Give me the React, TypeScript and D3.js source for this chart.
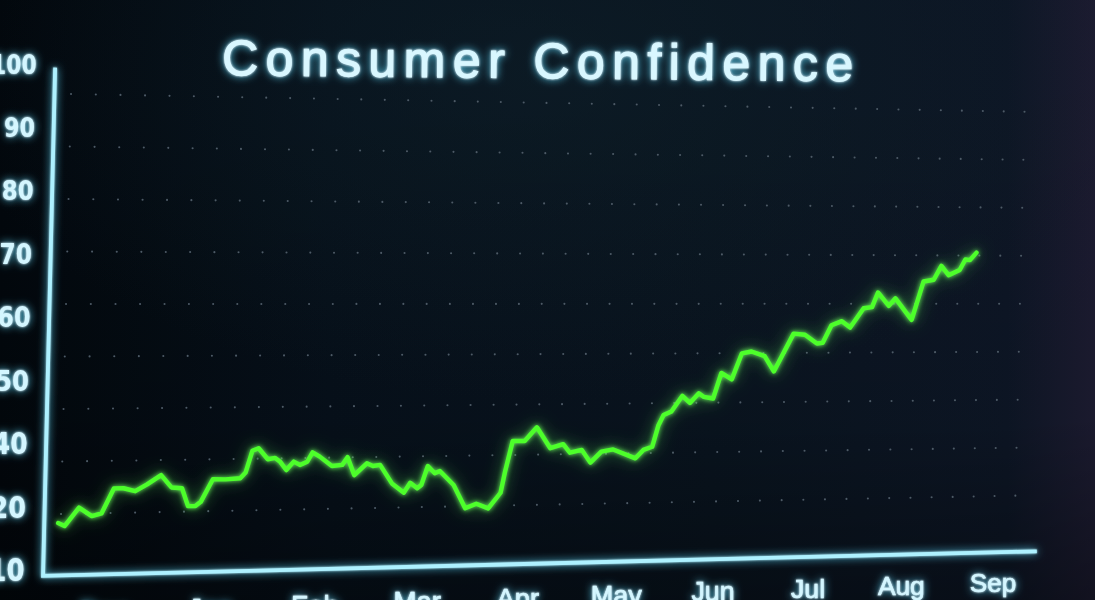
import React from 'react';
import * as d3 from 'd3';

const W = 1095;
const H = 600;

const title = 'Consumer Confidence';
const months = ['Dec', 'Jan', 'Feb', 'Mar', 'Apr', 'May', 'Jun', 'Jul', 'Aug', 'Sep'];
const yTickLabels = [100, 90, 80, 70, 60, 50, 40, 20, 10];

// line vertices: position in months after the "Dec" label, value read against the y labels
const monthPos = [
  -0.45, -0.39, -0.26, -0.14, -0.05, 0.06, 0.15, 0.26, 0.37, 0.5, 0.6, 0.7, 0.76, 0.83, 0.88, 0.99,
  1.11, 1.25, 1.3, 1.36, 1.42, 1.51, 1.58, 1.63, 1.69, 1.76, 1.82, 1.89, 1.94, 2.01, 2.13, 2.23,
  2.28, 2.35, 2.47, 2.53, 2.6, 2.72, 2.84, 2.9, 2.97, 3.01, 3.07, 3.14, 3.19, 3.33, 3.45, 3.56,
  3.68, 3.8, 3.84, 3.91, 4.03, 4.15, 4.29, 4.42, 4.49, 4.61, 4.7, 4.81, 4.93, 5.16, 5.24, 5.33,
  5.39, 5.44, 5.52, 5.63, 5.71, 5.8, 5.85, 5.95, 6.03, 6.14, 6.24, 6.34, 6.48, 6.58, 6.78, 6.9,
  7.03, 7.09, 7.18, 7.29, 7.38, 7.52, 7.61, 7.67, 7.79, 7.86, 8.04, 8.16, 8.27, 8.35, 8.43, 8.55,
  8.61, 8.66, 8.73,
];
const confidence = [
  17.3, 16.8, 19.7, 18.3, 18.7, 25.3, 25.3, 24.3, 26.4, 29.3, 25.3, 25.0, 19.6, 19.6, 20.5, 27.7,
  27.6, 27.9, 29.7, 36.7, 37.5, 33.9, 34.3, 33.0, 30.3, 33.0, 31.9, 32.9, 35.9, 34.5, 31.4, 31.7,
  34.2, 28.3, 32.1, 31.2, 31.5, 25.4, 22.3, 25.5, 23.7, 24.7, 30.9, 28.5, 29.2, 24.5, 18.4, 19.1,
  18.3, 21.7, 28.6, 38.8, 38.7, 41.6, 36.2, 37.5, 34.6, 35.5, 31.2, 34.8, 35.5, 32.4, 35.2, 36.2,
  41.7, 43.4, 44.0, 46.6, 45.4, 47.0, 46.4, 46.1, 50.4, 49.3, 53.7, 54.0, 53.2, 50.6, 57.0, 56.8,
  55.3, 55.4, 58.4, 59.1, 58.0, 61.3, 61.5, 64.0, 61.7, 63.0, 59.3, 65.9, 66.2, 68.6, 67.0, 67.9,
  69.7, 69.6, 70.9,
];

// perspective of the screen plane (recedes to the right)
const X0 = 66.1;
const YH = 301;
const K = 9.02e-5;
const LEAN = -0.0238;
const depth = (p: number) => 1 / (1 + K * p);
const proj = (p: number, q: number): [number, number] => {
  const s = depth(p);
  return [X0 + s * (p + LEAN * q), YH + s * q];
};

// flat-plane scales
const xScale = d3.scaleLinear().domain([0, months.length - 1]).range([46, 1019.7]);
const yDomain = [...yTickLabels].reverse();
const yScale = d3.scaleLinear().domain(yDomain).range(yDomain.map((_, i) => 268 - 63 * i));
const gridRow = d3.scaleLinear().domain([0, 8]).range([-207, 213]);
const GRID_COLS = 42;
const GRID_STEP = 24.85;

const AXIS_LEFT_P = -16.5;
const AXIS_RIGHT_P = 1071;
const AXIS_TOP_Q = yScale(100) + 3;
const AXIS_BASE_Q = 274.5;
const YLABEL_P = -35;

export default function App() {
  const linePts = monthPos.map((t, i) => proj(xScale(t), yScale(confidence[i])));
  const linePath = d3.line().curve(d3.curveLinear)(linePts) || '';

  const dots: [number, number][] = [];
  d3.range(9).forEach((r) => {
    d3.range(GRID_COLS + 1).forEach((c) => {
      dots.push(proj(c * GRID_STEP, gridRow(r)));
    });
  });

  const yTop = proj(AXIS_LEFT_P, AXIS_TOP_Q);
  const corner = proj(AXIS_LEFT_P, AXIS_BASE_Q);
  const xEnd = proj(AXIS_RIGHT_P, AXIS_BASE_Q);
  const axisPath = `M${yTop[0]},${yTop[1]}L${corner[0]},${corner[1]}L${xEnd[0]},${xEnd[1]}`;

  const labelFont = "'DejaVu Sans', sans-serif";
  const sansFont = "'Liberation Sans', Arial, sans-serif";

  return (
    <svg
      width={W}
      height={H}
      viewBox={`0 0 ${W} ${H}`}
      style={{ position: 'absolute', left: 0, top: 0, display: 'block' }}
    >
      <defs>
        <linearGradient id="bgH" x1="0" y1="0" x2="1" y2="0">
          <stop offset="0" stopColor="#02070c" />
          <stop offset="0.3" stopColor="#06101a" />
          <stop offset="0.65" stopColor="#09141f" />
          <stop offset="0.92" stopColor="#0d1625" />
          <stop offset="1" stopColor="#1c1b30" />
        </linearGradient>
        <radialGradient id="bgGlow" cx="0.5" cy="0.12" r="0.55">
          <stop offset="0" stopColor="#10222c" stopOpacity="0.5" />
          <stop offset="1" stopColor="#10222c" stopOpacity="0" />
        </radialGradient>
        <linearGradient id="bgV" x1="0" y1="0" x2="0" y2="1">
          <stop offset="0" stopColor="#000" stopOpacity="0" />
          <stop offset="0.7" stopColor="#000" stopOpacity="0.05" />
          <stop offset="1" stopColor="#000" stopOpacity="0.35" />
        </linearGradient>
        <filter id="glowCyan" filterUnits="userSpaceOnUse" x="-20" y="-20" width={W + 40} height={H + 40}>
          <feGaussianBlur in="SourceGraphic" stdDeviation="4.5" result="b1" />
          <feColorMatrix
            in="b1"
            type="matrix"
            values="0 0 0 0 0.1  0 0 0 0 0.65  0 0 0 0 0.9  0 0 0 1 0"
            result="c1"
          />
          <feGaussianBlur in="SourceGraphic" stdDeviation="1.2" result="b2" />
          <feMerge>
            <feMergeNode in="c1" />
            <feMergeNode in="b2" />
            <feMergeNode in="SourceGraphic" />
          </feMerge>
        </filter>
        <filter id="glowGreen" filterUnits="userSpaceOnUse" x="-20" y="-20" width={W + 40} height={H + 40}>
          <feGaussianBlur in="SourceGraphic" stdDeviation="8" result="b0" />
          <feColorMatrix
            in="b0"
            type="matrix"
            values="0 0 0 0 0.1  0 0 0 0 0.9  0 0 0 0 0.1  0 0 0 0.6 0"
            result="c0"
          />
          <feGaussianBlur in="SourceGraphic" stdDeviation="2.5" result="b1" />
          <feColorMatrix
            in="b1"
            type="matrix"
            values="0 0 0 0 0.15  0 0 0 0 1  0 0 0 0 0.1  0 0 0 1 0"
            result="c1"
          />
          <feMerge>
            <feMergeNode in="c0" />
            <feMergeNode in="c1" />
            <feMergeNode in="SourceGraphic" />
          </feMerge>
        </filter>
      </defs>

      <rect x={0} y={0} width={W} height={H} fill="url(#bgH)" />
      <rect x={0} y={0} width={W} height={H} fill="url(#bgGlow)" />
      <rect x={0} y={0} width={W} height={H} fill="url(#bgV)" />

      {/* dotted grid */}
      <g fill="#4d5a66">
        {dots.map(([x, y], i) => (
          <circle key={i} cx={x} cy={y} r={1.05} />
        ))}
      </g>

      {/* title */}
      <g filter="url(#glowCyan)">
        <text
          x={222}
          y={75}
          fontFamily={sansFont}
          fontSize={50}
          fill="#d9f7ff"
          stroke="#d9f7ff"
          strokeWidth={1.1}
          textLength={631}
          lengthAdjust="spacing"
          transform="rotate(0.55 222 75)"
        >
          {title}
        </text>
      </g>

      {/* axes */}
      <path
        d={axisPath}
        fill="none"
        stroke="#aef1ff"
        strokeWidth={3.8}
        strokeLinejoin="miter"
        filter="url(#glowCyan)"
      />

      {/* y labels */}
      <g filter="url(#glowCyan)">
        {yTickLabels.map((v) => {
          const q = yScale(v);
          const [x, y] = proj(YLABEL_P, q);
          const fs = 26 + 0.01 * (q + 236);
          return (
            <text
              key={v}
              transform={`translate(${x},${y}) scale(0.84,1)`}
              dy="0.36em"
              textAnchor="end"
              fontFamily={labelFont}
              fontWeight="bold"
              fontSize={fs}
              fill="#d4f6ff"
            >
              {v}
            </text>
          );
        })}
      </g>

      {/* month labels */}
      <g filter="url(#glowCyan)">
        {months.map((m, i) => {
          const p = xScale(i);
          const [x, y] = proj(p, 322 - 0.004 * p);
          const fs = 28.5 * depth(p);
          return (
            <text
              key={m}
              x={x}
              y={y}
              textAnchor="middle"
              fontFamily={sansFont}
              fontSize={fs}
              fill="#d4f6ff"
              stroke="#d4f6ff"
              strokeWidth={0.6}
            >
              {m}
            </text>
          );
        })}
      </g>

      {/* series line */}
      <path
        d={linePath}
        fill="none"
        stroke="#4dff2a"
        strokeWidth={4.4}
        strokeLinejoin="round"
        strokeLinecap="round"
        filter="url(#glowGreen)"
      />
    </svg>
  );
}
